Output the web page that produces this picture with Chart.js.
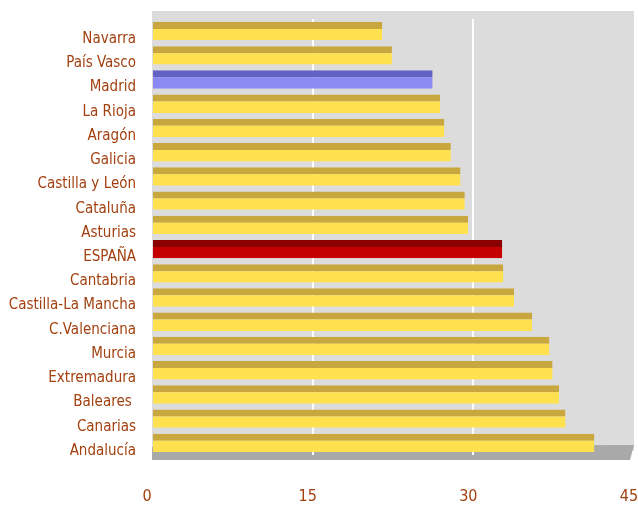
<!DOCTYPE html>
<html lang="es">
  <head>
    <meta charset="UTF-8" />
    <script src="https://cdn.jsdelivr.net/npm/chart.js@4.4.0/dist/chart.umd.min.js"></script>
    <title>Comunidades</title>
    <style>
      body { margin: 0; background: #fff; }
      #wrap { width: 638px; height: 508px; }
    </style>
  </head>
  <body>
    <div id="wrap">
      <canvas id="myChart" width="638" height="508"></canvas>
    </div>
    <script>
      const regiones = [
        "Navarra", "País Vasco", "Madrid", "La Rioja", "Aragón", "Galicia",
        "Castilla y León", "Cataluña", "Asturias", "ESPAÑA", "Cantabria",
        "Castilla-La Mancha", "C.Valenciana", "Murcia", "Extremadura",
        "Baleares ", "Canarias", "Andalucía",
      ];
      const valores = [
        21.5, 22.4, 26.2, 26.9, 27.3, 27.9, 28.8, 29.2, 29.5, 32.7, 32.8,
        33.8, 35.5, 37.1, 37.4, 38.0, 38.6, 41.3,
      ];
      const ticksX = [0, 15, 30, 45];

      const marron = "#A3400F";

      // fuente estrecha si existe
      const probe = document.createElement("canvas").getContext("2d");
      function ancho(fam, txt) {
        probe.font = "16px " + fam;
        return probe.measureText(txt).width;
      }
      let fuente = "'DejaVu Sans Condensed', sans-serif";
      let tam = 15;
      if (ancho("'Liberation Sans Narrow', monospace", "Castilla-La Mancha") !== ancho("monospace", "Castilla-La Mancha")) {
        fuente = "'Liberation Sans Narrow', sans-serif";
        tam = 17;
      }

      // colores: relleno y franja superior
      function relleno(i) {
        if (regiones[i] === "Madrid") return "#8A8AF2";
        if (regiones[i] === "ESPAÑA") return "#C40000";
        return "#FFE150";
      }
      function franja(i) {
        if (regiones[i] === "Madrid") return "#6262C4";
        if (regiones[i] === "ESPAÑA") return "#8A0000";
        return "#C8A83E";
      }

      // fondo gris y "suelo" del grafico
      const fondo = {
        id: "fondo",
        beforeDraw(chart) {
          const { ctx, chartArea: a } = chart;
          ctx.save();
          ctx.fillStyle = "#DCDCDC";
          ctx.fillRect(a.left, a.top - 8, a.right - a.left, a.bottom - a.top + 4);
          ctx.fillStyle = "#A9A9A9";
          ctx.beginPath();
          ctx.moveTo(a.left, a.bottom - 8);
          ctx.lineTo(a.right, a.bottom - 10);
          ctx.lineTo(a.right - 4, a.bottom + 5);
          ctx.lineTo(a.left, a.bottom + 5);
          ctx.closePath();
          ctx.fill();
          ctx.restore();
        },
      };

      const config = {
        type: "bar",
        data: {
          labels: regiones,
          datasets: [
            {
              data: valores,
              backgroundColor: valores.map((v, i) => relleno(i)),
              borderColor: valores.map((v, i) => franja(i)),
              borderWidth: { top: 7, bottom: 0, left: 0, right: 0 },
              borderSkipped: false,
              barPercentage: 0.76,
              categoryPercentage: 1,
            },
          ],
        },
        options: {
          indexAxis: "y",
          responsive: false,
          animation: false,
          layout: { padding: { top: 19, right: 0, left: 0, bottom: 0 } },
          plugins: {
            legend: { display: false },
            tooltip: { enabled: false },
          },
          scales: {
            x: {
              min: 0,
              max: 45,
              afterBuildTicks: (s) => { s.ticks = ticksX.map((v) => ({ value: v })); },
              afterFit: (s) => {
                s.height = 53;
                s.paddingLeft = 0;
                s.paddingRight = 4;
              },
              border: { display: false },
              grid: {
                drawTicks: false,
                lineWidth: 2,
                color: (c) => (c.tick && (c.tick.value === 15 || c.tick.value === 30) ? "#FFFFFF" : "rgba(0,0,0,0)"),
              },
              ticks: {
                padding: 32,
                labelOffset: -5,
                color: marron,
                font: { family: fuente, size: 16 },
              },
            },
            y: {
              afterFit: (s) => {
                s.width = 152;
                s.paddingTop = 0;
                s.paddingBottom = 0;
              },
              border: { display: false },
              grid: { display: false, drawTicks: false },
              ticks: {
                padding: 16,
                labelOffset: 8,
                color: marron,
                font: { family: fuente, size: tam },
              },
            },
          },
        },
        plugins: [fondo],
      };

      new Chart(document.getElementById("myChart"), config);
    </script>
  </body>
</html>
